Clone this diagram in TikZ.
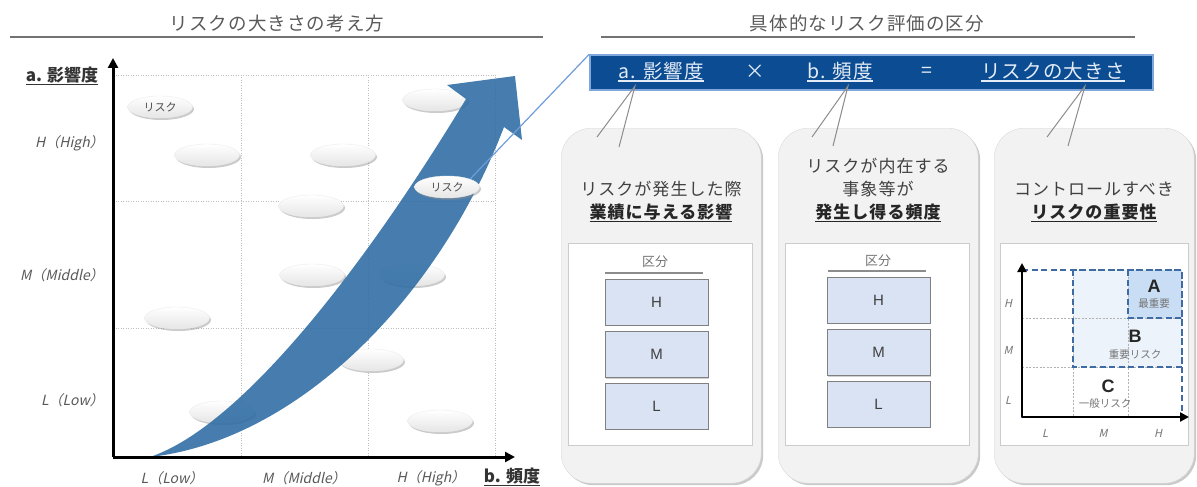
\documentclass[tikz,border=0pt]{standalone}
\usepackage{fontspec}
\setmainfont{Noto Sans CJK JP}
\newfontfamily\jp{Noto Sans CJK JP}
\newfontfamily\jpsp[LetterSpace=6]{Noto Sans CJK JP}
\newfontfamily\jpi[FakeSlant=0.22]{Noto Sans CJK JP}
\newfontfamily\lat{Liberation Sans}
\usetikzlibrary{shadows,shapes.geometric,arrows.meta}
\definecolor{txtgray}{HTML}{595959}
\definecolor{arrowblue}{HTML}{2C6BA3}
\definecolor{boxblue}{HTML}{0B4C92}
\definecolor{boxedge}{HTML}{7FA7DB}
\definecolor{linkblue}{HTML}{6D9EDB}
\definecolor{cardfill}{HTML}{F2F2F2}
\definecolor{hmlfill}{HTML}{DAE3F3}
\definecolor{dashblue}{HTML}{3E6BA3}
\definecolor{bfill}{HTML}{EDF3FB}
\definecolor{afill}{HTML}{C9DEF4}
\definecolor{bartext}{HTML}{E3ECF7}
\newcommand\myul[1]{\setbox0\hbox{#1}\rlap{\rule[-3pt]{\wd0}{1.2pt}}\box0}
\begin{document}
\begin{tikzpicture}[x=1pt,y=-1pt,
  titletext/.style={text=txtgray,font=\jpsp\fontsize{18.5}{21}\selectfont,inner sep=0},
  titleline/.style={draw=black!55,line width=2pt},
  gridline/.style={draw=black!25,line width=0.8pt,dash pattern=on 1pt off 1.5pt},
  ell/.style={ellipse,minimum width=65pt,minimum height=22pt,inner sep=0,
    top color=white,bottom color=black!10,draw=black!8,
    font=\jp\fontsize{11}{11}\selectfont,text=black!70,
    drop shadow={shadow xshift=1.5pt,shadow yshift=-2pt,fill=black!45,opacity=0.45}},
  axis/.style={line width=3pt,-{Triangle[length=10pt,width=10pt]}},
  ital/.style={text=txtgray,font=\jpi\fontsize{14}{14}\selectfont,inner sep=0},
  boldlab/.style={text=black!80,font=\jp\bfseries\fontsize{17}{17}\selectfont,inner sep=0},
  bartxt/.style={text=bartext,font=\jpsp\fontsize{19.5}{20}\selectfont,inner sep=0},
  callout/.style={draw=black!45,line width=1pt},
  card/.style={draw=black!15,fill=cardfill,rounded corners=30pt,anchor=north west,
    minimum width=200pt,minimum height=355pt,
    drop shadow={shadow xshift=2pt,shadow yshift=-2pt,fill=black!35,opacity=0.6}},
  cardtxt/.style={text=black!75,font=\jpsp\fontsize{17}{17}\selectfont,inner sep=0},
  cardbold/.style={text=black!85,font=\jpsp\bfseries\fontsize{17}{17}\selectfont,inner sep=0},
  panel/.style={draw=black!20,fill=white,anchor=north west,minimum height=202pt},
  kubun/.style={text=black!55,font=\jp\fontsize{13}{13}\selectfont,inner sep=0},
  hml/.style={draw=black!50,fill=hmlfill,minimum width=103pt,minimum height=46pt,
    font=\lat\fontsize{15}{15}\selectfont,text=black!75,
    drop shadow={shadow xshift=1pt,shadow yshift=-1pt,fill=black!30,opacity=0.6}},
  dashr/.style={draw=dashblue,line width=2pt,dash pattern=on 6pt off 3.5pt},
  mgrid/.style={draw=black!30,line width=0.8pt,dash pattern=on 2pt off 1.5pt},
  maxis/.style={line width=2.5pt,-{Triangle[length=9pt,width=9pt]}},
  mlab/.style={text=black!55,font=\jpi\fontsize{11}{11}\selectfont,inner sep=0},
  big/.style={text=black!85,font=\lat\bfseries\fontsize{18}{18}\selectfont,inner sep=0},
  small/.style={text=black!55,font=\jp\fontsize{10.5}{10.5}\selectfont,inner sep=0}]
\useasboundingbox (0,0) rectangle (1197,487);
% ---------- titles
\node[titletext] (t1) at (277,23) {リスクの大きさの考え方};
\draw[titleline] (10,37) -- (543,37);
\node[titletext] (t2) at (867,23) {具体的なリスク評価の区分};
\draw[titleline] (601,37) -- (1135,37);
% ---------- left chart grid
\foreach \x in {241,368,495} \draw[gridline] (\x,75) -- (\x,457);
\foreach \y in {75,201,328} \draw[gridline] (113,\y) -- (495,\y);
% ellipses
\node[ell] (e1) at (160,107) {リスク};
\node[ell] (e2) at (435,100) {};
\node[ell] (e3) at (207,155) {};
\node[ell] (e4) at (343,155) {};
\node[ell] (e6) at (311,206) {};
\node[ell] (e7) at (312,275) {};
\node[ell] (e8) at (412,275) {};
\node[ell] (e9) at (177,318) {};
\node[ell] (e10) at (371,360) {};
\node[ell] (e11) at (222,412) {};
\node[ell] (e12) at (440,421) {};
% big arrow
\fill[arrowblue,opacity=0.88] (150,457) .. controls (245,425) and (372,255) .. (466,99)
  -- (447,85) -- (515,76) -- (522,140) -- (504,127)
  .. controls (440,295) and (300,440) .. (150,457) -- cycle;
\node[ell] (e5) at (447,187) {リスク};
% axes
\coordinate (o) at (113,457);
\coordinate (ytop) at (113,58);
\coordinate (xend) at (515,457);
\draw[axis] (o) -- (ytop);
\draw[axis] (o) -- (xend);
% axis labels
\node[boldlab,anchor=center] (ya) at (62,76) {\myul{a. 影響度}};
\node[ital,anchor=east] (yh) at (104,143) {H（High）};
\node[ital,anchor=east] (ym) at (104,275) {M（Middle）};
\node[ital,anchor=east] (yl) at (104,400) {L（Low）};
\node[ital] (xl) at (172,478) {L（Low）};
\node[ital] (xm) at (304,478) {M（Middle）};
\node[ital] (xh) at (431,478) {H（High）};
\node[boldlab] (xb) at (512,477) {\myul{b. 頻度}};
% ---------- right: blue bar
\node[draw=boxedge,fill=boxblue,line width=1.5pt,minimum width=563pt,minimum height=35pt,inner sep=0] (bar) at (871.5,72.5) {};
\draw[linkblue,line width=1.2pt] (e5.north east) -- (bar.north west);
\node[bartxt] (ba) at (661,72) {\myul{a. 影響度}};
\node[bartxt] (bx) at (755,72) {×};
\node[bartxt] (bb) at (840,72) {\myul{b. 頻度}};
\node[bartxt] (be) at (927,72) {=};
\node[bartxt] (bc) at (1053,72) {\myul{リスクの大きさ}};
% cards
\node[card] (c1) at (561,128) {};
\node[card] (c2) at (778,128) {};
\node[card] (c3) at (994,128) {};
% callouts
\coordinate (a1) at (635,86); \coordinate (a1l) at (597,137); \coordinate (a1r) at (619,147);
\coordinate (a2) at (848,86); \coordinate (a2l) at (812,137); \coordinate (a2r) at (833,146);
\coordinate (a3) at (1085,86); \coordinate (a3l) at (1047,137); \coordinate (a3r) at (1068,146);
\draw[callout] (a1l) -- (a1) -- (a1r);
\draw[callout] (a2l) -- (a2) -- (a2r);
\draw[callout] (a3l) -- (a3) -- (a3r);
% card texts
\node[cardtxt] (c1a) at (661,189) {リスクが発生した際};
\node[cardbold] (c1b) at (661,213) {\myul{業績に与える影響}};
\node[cardtxt] (c2a) at (878,166) {リスクが内在する};
\node[cardtxt] (c2b) at (878,189) {事象等が};
\node[cardbold] (c2c) at (878,213) {\myul{発生し得る頻度}};
\node[cardtxt] (c3a) at (1094,189) {コントロールすべき};
\node[cardbold] (c3b) at (1094,213) {\myul{リスクの重要性}};
% panels
\node[panel,minimum width=184pt] (p1) at (568,243) {};
\node[panel,minimum width=184pt] (p2) at (785,243) {};
\node[panel,minimum width=188pt] (p3) at (1000,243) {};
% kubun
\node[kubun] (k1) at (655,262) {区分};
\draw[draw=black!45,line width=1.2pt] (605,273) -- (703,273);
\node[kubun] (k2) at (878,261) {区分};
\draw[draw=black!45,line width=1.2pt] (828,271) -- (926,271);
\node[hml] (h1) at (656.5,302) {H};
\node[hml] (m1) at (656.5,354.5) {M};
\node[hml] (l1) at (656.5,406) {L};
\node[hml] (h2) at (878.5,300) {H};
\node[hml] (m2) at (878.5,352.5) {M};
\node[hml] (l2) at (878.5,404) {L};
% ---------- matrix
\fill[bfill] (1073,270) rectangle (1182,367);
\fill[afill] (1128,270) rectangle (1182,318);
\foreach \y in {318,367} \draw[mgrid] (1022,\y) -- (1182,\y);
\foreach \x in {1073,1128} \draw[mgrid] (\x,270) -- (\x,417);
\draw[dashr] (1022,270) rectangle (1182,417);
\draw[dashr] (1073,270) rectangle (1182,367);
\draw[dashr] (1128,270) rectangle (1182,318);
\coordinate (mo) at (1022,417);
\coordinate (mytop) at (1022,263);
\coordinate (mxend) at (1189,417);
\draw[maxis] (mo) -- (mytop);
\draw[maxis] (mo) -- (mxend);
\node[big] (la) at (1154,286) {A};
\node[small] (sa) at (1154,304) {最重要};
\node[big] (lb) at (1135,336) {B};
\node[small] (sb) at (1135,355) {重要リスク};
\node[big] (lc) at (1108,386) {C};
\node[small] (sc) at (1105,404) {一般リスク};
\node[mlab] (mh) at (1008,303) {H};
\node[mlab] (mm) at (1008,350) {M};
\node[mlab] (ml) at (1008,400) {L};
\node[mlab] (nl) at (1045,433) {L};
\node[mlab] (nm) at (1103,433) {M};
\node[mlab] (nh) at (1158,433) {H};
\end{tikzpicture}
\end{document}
